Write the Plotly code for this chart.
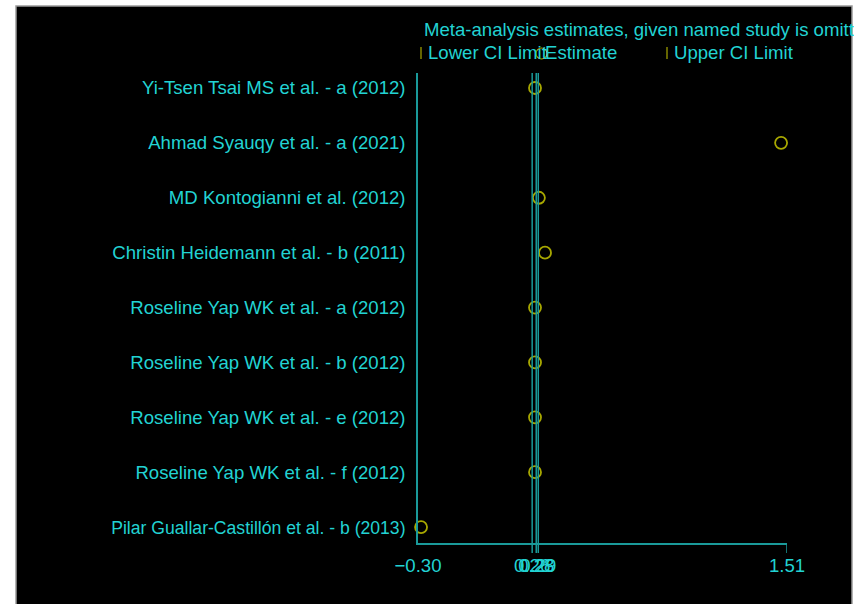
import plotly.graph_objects as go

# Influence analysis: pooled estimate recomputed with each study left out
studies = [
    "Yi-Tsen Tsai MS et al. - a (2012)",
    "Ahmad Syauqy et al. - a (2021)",
    "MD Kontogianni et al. (2012)",
    "Christin Heidemann et al. - b (2011)",
    "Roseline Yap WK et al. - a (2012)",
    "Roseline Yap WK et al. - b (2012)",
    "Roseline Yap WK et al. - e (2012)",
    "Roseline Yap WK et al. - f (2012)",
    "Pilar Guallar-Castillón et al. - b (2013)",
]
estimates = [0.274, 1.481, 0.293, 0.323, 0.274, 0.274, 0.274, 0.274, -0.285]

# Overall pooled estimate and its confidence limits
overall_lower = 0.26
overall_est = 0.28
overall_upper = 0.29
axis_min, axis_max = -0.30, 1.51

TEXT = "#22d3d3"
LINE = "#1a9a9a"
MARK = "#a8a800"
FONT = "Liberation Sans, Arial, sans-serif"
FS = 18.6

W, H = 860, 604
L, R, T, B = 418, 73, 73, 61
PW, PH = W - L - R, H - T - B


def px_x(px):
    return (px - L) / PW


def px_y(py):
    return (H - B - py) / PH


rows = list(range(1, len(studies) + 1))
# the longest label is set a touch tighter so it fits the left margin
row_labels = [s if len(s) < 40 else f'<span style="font-size:17.6px">{s}</span>' for s in studies]

fig = go.Figure()
fig.add_trace(go.Scatter(
    x=estimates, y=rows, mode="markers",
    marker=dict(symbol="circle-open", size=12, color=MARK, line=dict(width=1.8, color=MARK)),
    cliponaxis=False, showlegend=False, hoverinfo="x+text", text=studies,
))

shapes = []
# dark panel with thin grey frame
shapes.append(dict(type="rect", xref="paper", yref="paper",
                   x0=px_x(16), x1=px_x(852), y0=px_y(606), y1=px_y(6),
                   fillcolor="black", line=dict(color="#9a9a9a", width=1.5), layer="below"))
# reference lines at the overall estimate and CI, running through the axis as ticks
for v in (overall_lower, overall_est, overall_upper):
    shapes.append(dict(type="line", xref="x", yref="paper", x0=v, x1=v,
                       y0=px_y(553), y1=1, line=dict(color=LINE, width=1.5)))
# tick at the right end of the axis
shapes.append(dict(type="line", xref="x", yref="paper", x0=axis_max, x1=axis_max,
                   y0=px_y(553), y1=0, line=dict(color=LINE, width=1.5)))
# legend keys
shapes.append(dict(type="line", xref="paper", yref="paper", x0=px_x(421), x1=px_x(421),
                   y0=px_y(59), y1=px_y(47), line=dict(color=MARK, width=1.2)))
shapes.append(dict(type="line", xref="paper", yref="paper", x0=px_x(667), x1=px_x(667),
                   y0=px_y(59), y1=px_y(47), line=dict(color=MARK, width=1.2)))
shapes.append(dict(type="circle", xref="paper", yref="paper", x0=px_x(536), x1=px_x(547),
                   y0=px_y(59), y1=px_y(48), line=dict(color=MARK, width=1.2)))

annotations = [
    dict(text="Meta-analysis estimates, given named study is omitted",
         xref="paper", yref="paper", x=px_x(422), y=px_y(30), xanchor="left", yanchor="middle",
         width=852 - 422, align="left", showarrow=False,
         font=dict(family=FONT, size=FS, color=TEXT)),
    dict(text="Lower CI Limit", xref="paper", yref="paper", x=px_x(426), y=px_y(53),
         xanchor="left", yanchor="middle", showarrow=False,
         font=dict(family=FONT, size=FS, color=TEXT)),
    dict(text="Estimate", xref="paper", yref="paper", x=px_x(543), y=px_y(53),
         xanchor="left", yanchor="middle", showarrow=False,
         font=dict(family=FONT, size=FS, color=TEXT)),
    dict(text="Upper CI Limit", xref="paper", yref="paper", x=px_x(672), y=px_y(53),
         xanchor="left", yanchor="middle", showarrow=False,
         font=dict(family=FONT, size=FS, color=TEXT)),
]

fig.update_layout(
    width=W, height=H,
    margin=dict(l=L, r=R, t=T, b=B, pad=0, autoexpand=False),
    paper_bgcolor="white", plot_bgcolor="black",
    showlegend=False,
    shapes=shapes, annotations=annotations,
    font=dict(family=FONT, size=FS, color=TEXT),
    xaxis=dict(range=[axis_min, axis_max], showgrid=False, zeroline=False,
               showline=True, linecolor=LINE, linewidth=1.5, automargin=False,
               tickvals=[axis_min, overall_lower, overall_est, overall_upper, axis_max],
               tickformat=".2f", ticks="", tickangle=0, ticklabelstandoff=5,
               tickfont=dict(family=FONT, size=FS, color=TEXT)),
    yaxis=dict(range=[len(studies) + 0.29, 0.727], showgrid=False, zeroline=False,
               showline=True, linecolor=LINE, linewidth=1.5, automargin=False,
               tickvals=rows, ticktext=row_labels, ticks="", ticklabelstandoff=7,
               tickfont=dict(family=FONT, size=FS, color=TEXT)),
)

fig.write_html("out.html")
